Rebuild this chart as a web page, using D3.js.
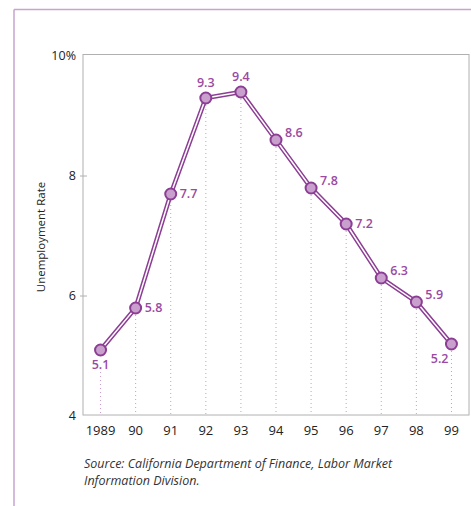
<!DOCTYPE html>
<html lang="en">
<head>
<meta charset="UTF-8">
<title>Unemployment Rate</title>
<style>
  * { margin: 0; padding: 0; }
  body { background: #fff; }
  svg { display: block; font-family: "Open Sans", sans-serif; }
</style>
</head>
<body>
<div id="chart-area"></div>
<script src="https://cdn.jsdelivr.net/npm/d3@7"></script>
<script>
const years = ['1989', '90', '91', '92', '93', '94', '95', '96', '97', '98', '99']
const rates = [5.1, 5.8, 7.7, 9.3, 9.4, 8.6, 7.8, 7.2, 6.3, 5.9, 5.2]
const yTicks = [4, 6, 8, 10]
// where each value label sits relative to its point
const labelPos = ['below', 'right', 'right', 'above', 'above', 'right', 'right', 'right', 'right', 'right', 'belowLeft']

const W = 471, H = 506
const purple = '#8c3d94'
const svg = d3.select('#chart-area').append('svg')
  .attr('width', W).attr('height', H)

// page border (top and left only)
svg.append('line').attr('x1', 14).attr('x2', W).attr('y1', 9.5).attr('y2', 9.5)
  .attr('stroke', '#c9a3d0').attr('stroke-width', 1.5)
svg.append('line').attr('x1', 14).attr('x2', 14).attr('y1', 9.5).attr('y2', H)
  .attr('stroke', '#c9a3d0').attr('stroke-width', 1.5)

const plotL = 83, plotR = 469, plotT = 54.5, plotB = 415

const x = d3.scalePoint().domain(years).range([plotL, plotR]).padding(0.5)
const y = d3.scaleLinear().domain([4, 10]).range([plotB + 1, 56])

// frame
svg.append('rect').attr('x', plotL).attr('y', plotT)
  .attr('width', plotR - plotL).attr('height', plotB - plotT)
  .attr('fill', 'none').attr('stroke', '#b0b0b0').attr('stroke-width', 1)

// y ticks
svg.selectAll('.ytick').data(yTicks.filter(d => d > 4 && d < 10)).enter().append('line')
  .attr('x1', plotL - 3).attr('x2', plotL + 4)
  .attr('y1', d => y(d)).attr('y2', d => y(d))
  .attr('stroke', '#b0b0b0')
svg.selectAll('.ylab').data(yTicks).enter().append('text')
  .attr('x', 76).attr('y', d => y(d) + 4)
  .attr('text-anchor', 'end').attr('font-size', 12.5).attr('fill', '#222')
  .text(d => d === 10 ? '10%' : d)

svg.append('text')
  .attr('transform', 'translate(45,237) rotate(-90)')
  .attr('text-anchor', 'middle').attr('font-size', 11.5).attr('fill', '#222')
  .text('Unemployment Rate')

// x labels
svg.selectAll('.xlab').data(years).enter().append('text')
  .attr('x', d => x(d)).attr('y', 435)
  .attr('text-anchor', 'middle').attr('font-size', 13).attr('fill', '#222')
  .text(d => d)

// dotted drop lines
svg.selectAll('.drop').data(rates).enter().append('line')
  .attr('x1', (d, i) => x(years[i])).attr('x2', (d, i) => x(years[i]))
  .attr('y1', (d, i) => y(d) + (labelPos[i] === 'below' ? 22 : 7)).attr('y2', plotB)
  .attr('stroke', '#c99ccf').attr('stroke-width', 1).attr('stroke-dasharray', '1,3')

// double line
const line = d3.line().x((d, i) => x(years[i])).y(d => y(d))
svg.append('path').datum(rates).attr('d', line)
  .attr('fill', 'none').attr('stroke', purple).attr('stroke-width', 4.5)
svg.append('path').datum(rates).attr('d', line)
  .attr('fill', 'none').attr('stroke', '#fff').attr('stroke-width', 1.5)

svg.selectAll('.pt').data(rates).enter().append('circle')
  .attr('cx', (d, i) => x(years[i])).attr('cy', d => y(d)).attr('r', 5.5)
  .attr('fill', '#c9a0cd').attr('stroke', purple).attr('stroke-width', 2)

// value labels
svg.selectAll('.val').data(rates).enter().append('text')
  .attr('x', (d, i) => {
    const p = labelPos[i], cx = x(years[i])
    if (p === 'right') return cx + 9
    if (p === 'belowLeft') return cx - 3
    return cx
  })
  .attr('y', (d, i) => {
    const p = labelPos[i], cy = y(d)
    if (p === 'above') return cy - 11
    if (p === 'below') return cy + 19
    if (p === 'belowLeft') return cy + 19
    return (i >= 5 && i !== 7 ? cy - 3 : cy + 4)
  })
  .attr('text-anchor', (d, i) => labelPos[i] === 'right' ? 'start' : (labelPos[i] === 'belowLeft' ? 'end' : 'middle'))
  .attr('font-size', 12.5).attr('font-weight', 600).attr('fill', '#9a4aa2')
  .text(d => d.toFixed(1))

// source note
const note = svg.append('text').attr('font-size', 12.5).attr('font-style', 'italic').attr('fill', '#333')
note.append('tspan').attr('x', 84).attr('y', 468)
  .text('Source: California Department of Finance, Labor Market')
note.append('tspan').attr('x', 84).attr('y', 485)
  .text('Information Division.')
</script>
</body>
</html>
